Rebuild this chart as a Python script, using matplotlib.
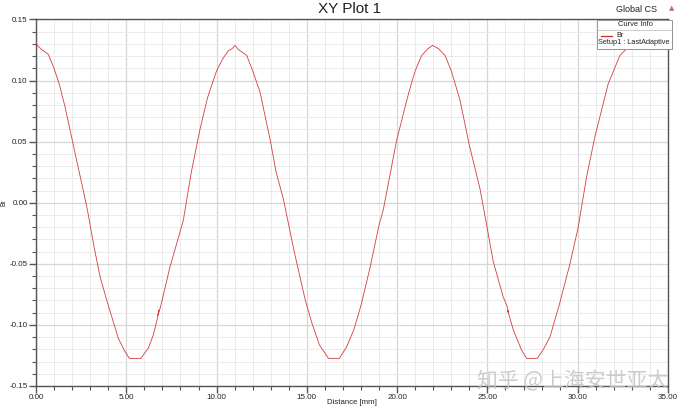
import matplotlib
matplotlib.use("Agg")
import matplotlib.pyplot as plt
from matplotlib.patches import Rectangle
from matplotlib.lines import Line2D
from matplotlib.ticker import MultipleLocator, FormatStrFormatter

# ---- data ----
distance = [
    0.00, 0.30, 0.68, 1.00, 1.29, 1.60, 1.88, 2.20, 2.53, 2.85, 3.20, 3.54, 3.90, 4.19, 4.56, 4.90,
    5.17, 5.81, 5.90, 6.22, 6.50, 6.72, 6.80, 6.76, 6.90, 7.42, 7.80, 8.16, 8.60, 9.08, 9.50, 10.00,
    10.35, 10.65, 10.85, 11.02,
    11.20, 11.67, 12.00, 12.40, 12.96, 13.30, 13.70, 14.30, 14.90, 15.30, 15.70, 16.00, 16.20, 16.80,
    16.90, 17.20, 17.60, 18.00, 18.50, 19.00, 19.23, 19.97, 20.50, 20.70, 21.00, 21.36, 21.70, 21.96,
    22.30, 22.65, 23.00, 23.48, 24.00, 24.58, 24.77, 25.32, 25.87, 26.10, 26.16, 26.12, 26.43, 26.89,
    27.17, 27.76, 28.10, 28.46, 29.00, 29.57, 30.03, 30.49, 30.95, 31.69, 32.34, 32.70, 33.00,
]
br = [
    0.1300, 0.1255, 0.1215, 0.1100, 0.0970, 0.0790, 0.0600, 0.0380, 0.0160, -0.0060, -0.0350, -0.0600,
    -0.0790, -0.0930, -0.1110, -0.1210,
    -0.1274, -0.1274, -0.1255, -0.1190, -0.1080, -0.0950, -0.0880, -0.0920, -0.0850, -0.0525, -0.0330,
    -0.0143, 0.0250, 0.0600, 0.0860, 0.1080,
    0.1180, 0.1245, 0.1260, 0.1288,
    0.1255, 0.1206, 0.1080, 0.0910, 0.0520, 0.0250, 0.0030, -0.0400, -0.0790, -0.0995, -0.1165, -0.1230,
    -0.1274, -0.1274,
    -0.1250, -0.1180, -0.1040, -0.0840, -0.0530, -0.0180, -0.0060, 0.0510, 0.0820, 0.0930, 0.1080,
    0.1206, 0.1260, 0.1288,
    0.1260, 0.1206, 0.1080, 0.0840, 0.0470, 0.0120, -0.0030, -0.0480, -0.0770, -0.0850, -0.0900,
    -0.0880, -0.1040, -0.1206,
    -0.1274, -0.1274, -0.1200, -0.1100, -0.0824, -0.0500, -0.0198, 0.0210, 0.0540, 0.0975, 0.1206,
    0.1260, 0.1290,
]

title = "XY Plot 1"
x_label = "Distance [mm]"
y_label = "Br"
legend_title = "Curve Info"
legend_name = "Br"
legend_setup = "Setup1 : LastAdaptive"
cs_label = "Global CS"
watermark = "知乎 @上海安世亚太"

plt.rcParams['font.family'] = ['Liberation Sans', 'DejaVu Sans']

W, H = 684, 407
fig = plt.figure(figsize=(W / 100, H / 100), dpi=100)
fig.patch.set_facecolor("white")


def fx(px):
    return px / W


def fy(py):
    return 1 - py / H


ax_l, ax_r, ax_t, ax_b = 36, 668, 19.5, 386
ax = fig.add_axes([ax_l / W, 1 - ax_b / H, (ax_r - ax_l) / W, (ax_b - ax_t) / H])

ax.set_xlim(0, 35)
ax.set_ylim(-0.15, 0.15)
ax.xaxis.set_major_locator(MultipleLocator(5))
ax.xaxis.set_minor_locator(MultipleLocator(1))
ax.yaxis.set_major_locator(MultipleLocator(0.05))
ax.yaxis.set_minor_locator(MultipleLocator(0.01))
ax.xaxis.set_major_formatter(FormatStrFormatter("%.2f"))
ax.yaxis.set_major_formatter(FormatStrFormatter("%.2f"))

ax.grid(which="minor", color="#ebebeb", linewidth=0.7)
ax.grid(which="major", color="#d6d6d6", linewidth=0.9)
ax.set_axisbelow(True)

for s in ax.spines.values():
    s.set_color("#555555")
    s.set_linewidth(1.0)

ax.tick_params(which="major", direction="out", length=5, width=1.0, color="#555555",
               labelsize=5.8, labelcolor="#222222", pad=1.0)
ax.tick_params(which="minor", direction="out", length=3, width=0.8, color="#555555")

ax.plot(distance, br, color="#d43c3c", linewidth=0.6, zorder=3)

fig.text(fx(352), fy(402.5), x_label, ha="center", va="center", fontsize=5.6, color="#222222")
fig.text(fx(3.5), fy(203), y_label, ha="center", va="center", fontsize=4.8, color="#222222",
         rotation=90)

fig.text(fx(350), fy(9), title, ha="center", va="center", fontsize=11, color="#222222")
fig.text(fx(636), fy(9), cs_label, ha="center", va="center", fontsize=6.5, color="#222222")
fig.text(fx(672), fy(8), "▲", ha="center", va="center", fontsize=5, color="#c07070",
         family=["DejaVu Sans"])

# legend box ("Curve Info")
lx0, lx1, ly0, ly1 = 597, 672, 19.5, 48.5
shadow = Rectangle((fx(lx0 + 1.5), fy(ly1 + 1.5)), fx(lx1) - fx(lx0), fy(ly0) - fy(ly1),
                   transform=fig.transFigure, facecolor="#9a9a9a", edgecolor="none", zorder=9)
box = Rectangle((fx(lx0), fy(ly1)), fx(lx1) - fx(lx0), fy(ly0) - fy(ly1),
                transform=fig.transFigure, facecolor="white", edgecolor="#8a8a8a",
                linewidth=0.6, zorder=10)
fig.add_artist(shadow)
fig.add_artist(box)
fig.add_artist(Line2D([fx(lx0), fx(lx1)], [fy(30), fy(30)], transform=fig.transFigure,
                      color="#b8b8b8", linewidth=0.5, zorder=11))
fig.text(fx(635), fy(25), legend_title, ha="center", va="center", fontsize=5.4, color="#222222", zorder=12)
fig.add_artist(Line2D([fx(601), fx(612)], [fy(35.5), fy(35.5)], transform=fig.transFigure,
                      color="#cc2a2a", linewidth=0.9, zorder=12))
fig.text(fx(616), fy(35.5), legend_name, ha="left", va="center", fontsize=5.2, color="#222222", zorder=12)
fig.text(fx(598), fy(43), legend_setup, ha="left", va="center", fontsize=5.3, color="#222222", zorder=12)

# watermark
fig.text(fx(573), fy(381), watermark, ha="center", va="center", fontsize=15,
         color="#c4c4c4", alpha=0.85, family=["Noto Sans CJK SC", "DejaVu Sans"], zorder=20)

fig.savefig("out.png", dpi=100, facecolor="white")
